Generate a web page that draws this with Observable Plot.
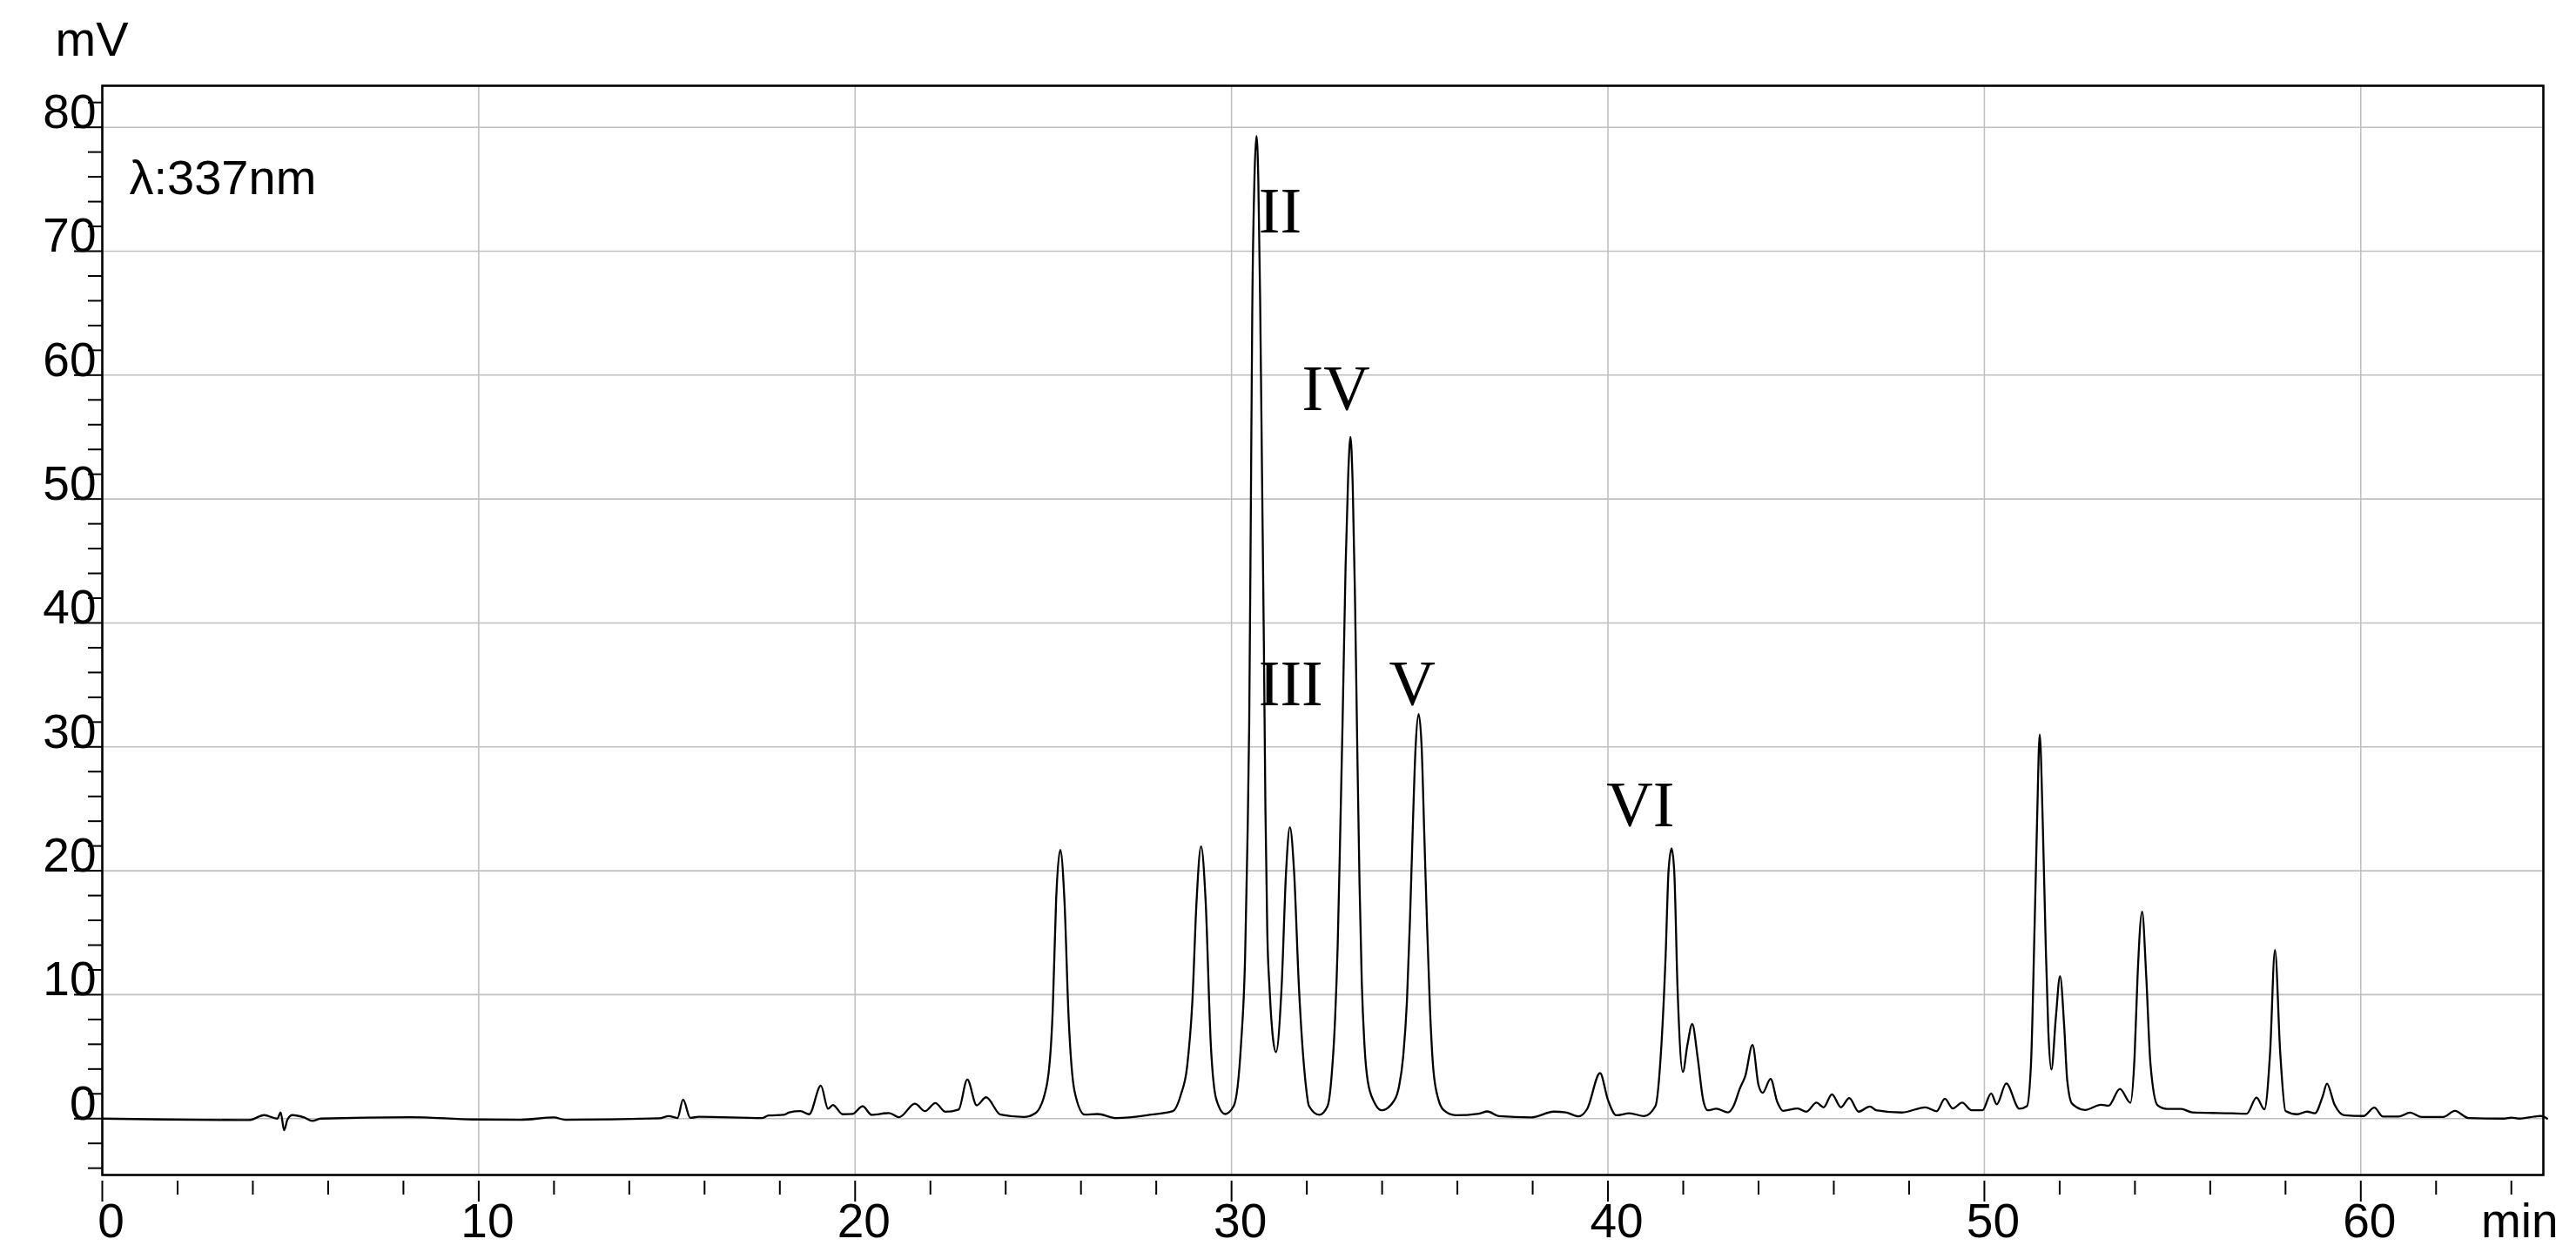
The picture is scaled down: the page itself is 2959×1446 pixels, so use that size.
<!DOCTYPE html>
<html>
<head>
<meta charset="utf-8">
<script src="https://cdn.jsdelivr.net/npm/d3@7"></script>
<script src="https://cdn.jsdelivr.net/npm/@observablehq/plot@0.6"></script>
<style>
  html, body { margin: 0; padding: 0; background: #ffffff; }
  svg { display: block; }
</style>
</head>
<body>
<script>
// Retention time (min) and detector signal (mV)
const time = [
  0, 1.65, 3.9, 4.3, 4.65, 4.74, 4.83, 4.92, 5.05, 5.36, 5.58, 5.8, 8.18, 9.86, 11.1, 12.0, 12.3,
  14.8, 15.05, 15.28, 15.43, 15.62, 15.85, 17.54, 17.7, 18.1, 18.25, 18.55, 18.78, 19.09, 19.28,
  19.41, 19.67, 19.93, 20.2, 20.44, 20.9, 21.17, 21.59, 21.86, 22.13, 22.4, 22.75, 22.98, 23.23,
  23.48, 23.86, 24.48, 24.79, 25.09, 25.25, 25.34, 25.45, 25.56, 25.67, 25.83, 26.1, 26.44, 26.94,
  27.87, 28.44, 28.65, 28.82, 28.96, 29.07, 29.19, 29.31, 29.45, 29.6, 29.83, 30.06, 30.25, 30.36, 30.42,
  30.47, 30.51, 30.55, 30.61, 30.66, 30.71, 30.76, 30.81, 30.86, 30.9, 30.95, 31.01, 31.1, 31.18,
  31.33, 31.45, 31.55, 31.66, 31.79, 31.95, 32.06, 32.33, 32.55, 32.66, 32.75, 32.82, 32.88, 32.95, 33.03,
  33.1, 33.16, 33.22, 33.28, 33.34, 33.4, 33.46, 33.53, 33.62, 33.79, 33.99, 34.33, 34.45, 34.56, 34.66,
  34.74, 34.81, 34.89, 34.97, 35.05, 35.12, 35.19, 35.27, 35.36, 35.5, 35.64, 35.95, 36.57, 36.8, 37.1,
  37.95, 38.57, 38.88, 39.22, 39.45, 39.79, 40.0, 40.22, 40.57, 40.96, 41.26, 41.42, 41.53, 41.61,
  41.69, 41.76, 41.85, 41.99, 42.11, 42.24, 42.38, 42.53, 42.65, 42.88, 43.19, 43.34, 43.5, 43.65,
  43.84, 44.0, 44.11, 44.32, 44.5, 44.65, 45.04, 45.27, 45.54, 45.73, 45.95, 46.19, 46.41, 46.66,
  46.96, 47.12, 47.81, 48.43, 48.73, 48.95, 49.16, 49.41, 49.66, 49.95, 50.18, 50.33, 50.58, 50.93,
  51.13, 51.24, 51.33, 51.4, 51.47, 51.55, 51.63, 51.7, 51.78, 51.9, 52.01, 52.12, 52.2, 52.33, 52.68,
  53.1, 53.3, 53.6, 53.88, 53.99, 54.07, 54.19, 54.3, 54.41, 54.6, 54.85, 55.23, 55.52, 56.56, 56.97,
  57.23, 57.44, 57.59, 57.72, 57.86, 58.0, 58.31, 58.57, 58.78, 58.99, 59.1, 59.3, 59.56, 60.07, 60.36,
  60.59, 61.0, 61.31, 61.62, 62.19, 62.5, 62.86, 63.8, 64.0, 64.21, 64.62, 64.78, 64.95
];
const signal = [
  0, -0.07, -0.12, 0.28, 0.0, 0.5, -0.94, -0.07, 0.28, 0.09, -0.19, 0.0, 0.12, -0.07, -0.1, 0.1, -0.1,
  0.02, 0.2, 0.05, 1.54, 0.06, 0.15, 0.05, 0.25, 0.3, 0.5, 0.6, 0.35, 2.66, 0.8,
  1.1, 0.35, 0.38, 1.0, 0.3, 0.45, 0.12, 1.2, 0.6, 1.26, 0.55, 0.73, 3.15, 1.07,
  1.72, 0.32, 0.13, 0.44, 2.67, 8.76, 17.66, 21.69, 17.66, 8.29, 2.2, 0.32, 0.37, 0.04,
  0.32, 0.6, 1.9, 4.2, 9.5, 17.5, 21.97, 17.66, 5.94, 1.5, 0.37, 1.03, 5.9, 13, 22,
  32, 48, 65, 76, 79.3, 76, 66, 52, 38, 25, 15, 10.5, 6.5, 5.36,
  10.63, 20, 23.51, 20, 10.63, 3.4, 1.0, 0.3, 1.0, 3.5, 8, 14, 22, 32, 44.6,
  52, 55, 51, 42, 30, 19, 11, 6, 3, 1.33, 0.67, 1.5, 2.6, 5.0, 9.5,
  16, 23, 30, 32.65, 30, 23, 16, 9, 4, 1.5, 0.67, 0.27, 0.4, 0.58, 0.2,
  0.1, 0.56, 0.5, 0.18, 0.79, 3.67, 1.5, 0.27, 0.43, 0.2, 1.0, 5.94, 12.97, 20,
  21.8, 20, 10.4, 3.77, 5.94, 7.63, 5, 1.5, 0.67, 0.8, 0.5, 1.03, 2.4, 3.45,
  5.94, 2.7, 2.08, 3.2, 1.33, 0.63, 0.82, 0.56, 1.29, 0.91, 1.96, 0.91, 1.66, 0.56,
  0.98, 0.68, 0.49, 0.91, 0.59, 1.61, 0.82, 1.29, 0.68, 0.68, 2.03, 1.15, 2.83, 0.8,
  1.0, 4.5, 15, 24, 31, 24, 14, 7, 3.96, 8.2, 11.5, 7.5, 3.13, 1.2, 0.7,
  1.12, 1.04, 2.4, 1.28, 5, 11.5, 16.7, 11.5, 4.5, 1.08, 0.78, 0.78, 0.5, 0.43, 0.4,
  1.69, 0.75, 5.3, 13.6, 5.3, 0.62, 0.35, 0.56, 0.43, 1.82, 2.82, 1.15, 0.27, 0.21, 0.89,
  0.16, 0.16, 0.48, 0.13, 0.13, 0.62, 0.05, 0.0, 0.08, 0.0, 0.16, 0.21, 0.0
];

// Peak annotations
const peakLabels = ["II", "III", "IV", "V", "VI"];
const peakLabelTime = [30.72, 30.72, 31.87, 34.18, 39.96];
const peakLabelLevel = [71.5, 33.35, 57.2, 33.35, 23.6];

// Axis ticks
const xMajorTicks = [0, 10, 20, 30, 40, 50, 60];
const xMinorTicks = [2, 4, 6, 8, 12, 14, 16, 18, 22, 24, 26, 28, 32, 34, 36, 38, 42, 44, 46, 48, 52, 54, 56, 58, 62, 64];
const yMajorTicks = [0, 10, 20, 30, 40, 50, 60, 70, 80];
const yMinorTicks = [-4, -2, 2, 4, 6, 8, 12, 14, 16, 18, 22, 24, 26, 28, 32, 34, 36, 38, 42, 44, 46, 48, 52, 54, 56, 58, 62, 64, 66, 68, 72, 74, 76, 78, 82];
const xGrid = [10, 20, 30, 40, 50, 60];
const yGrid = [0, 10, 20, 30, 40, 50, 60, 70, 80];

const xUnit = "min";
const yUnit = "mV";
const wavelengthNote = "λ:337nm";

const trace = time.map((t, i) => ({t, v: signal[i]}));
const peaks = peakLabels.map((label, i) => ({label, t: peakLabelTime[i], v: peakLabelLevel[i]}));

const sans = "'Liberation Sans', Arial, Helvetica, sans-serif";
const serif = "'Liberation Serif', 'Times New Roman', Times, serif";
const fs = 55;

const chart = Plot.plot({
  width: 2959,
  height: 1446,
  marginLeft: 117,
  marginRight: 38,
  marginTop: 98,
  marginBottom: 97,
  style: {background: "#ffffff", fontFamily: sans, overflow: "visible"},
  x: {domain: [0, 64.85], axis: null},
  y: {domain: [-4.55, 83.35], axis: null},
  marks: [
    Plot.gridX(xGrid, {stroke: "#c0c0c0", strokeOpacity: 1, strokeWidth: 1.6}),
    Plot.gridY(yGrid, {stroke: "#c0c0c0", strokeOpacity: 1, strokeWidth: 1.6}),
    Plot.line(trace, {x: "t", y: "v", curve: "monotone-x", stroke: "#000000", strokeWidth: 2.3}),
    Plot.frame({stroke: "#000000", strokeWidth: 2.6}),
    // y ticks
    Plot.axisY(yMinorTicks, {tickSize: 16, tickFormat: () => "", stroke: "#000000", strokeWidth: 2, label: null}),
    Plot.axisY(yMajorTicks, {tickSize: 32, tickFormat: () => "", stroke: "#000000", strokeWidth: 2, label: null}),
    Plot.text(yMajorTicks, {y: d => d, text: d => String(d), frameAnchor: "left", textAnchor: "end", lineAnchor: "bottom", dx: -7, dy: 1, fontSize: fs, fontFamily: sans, fill: "#000000"}),
    // x ticks
    Plot.axisX(xMinorTicks, {tickSize: 16, dy: 7, tickFormat: () => "", stroke: "#000000", strokeWidth: 2, label: null}),
    Plot.axisX(xMajorTicks, {tickSize: 24, dy: 7, tickFormat: () => "", stroke: "#000000", strokeWidth: 2, label: null}),
    Plot.text(xMajorTicks, {x: d => d, text: d => String(d), frameAnchor: "bottom", textAnchor: "middle", lineAnchor: "bottom", dx: 10, dy: 71, fontSize: fs, fontFamily: sans, fill: "#000000"}),
    // unit labels
    Plot.text([xUnit], {text: d => d, frameAnchor: "bottom-right", textAnchor: "end", lineAnchor: "bottom", dx: 17, dy: 71, fontSize: fs, fontFamily: sans, fill: "#000000"}),
    Plot.text([yUnit], {text: d => d, frameAnchor: "top-left", textAnchor: "start", lineAnchor: "bottom", dx: -54, dy: -35, fontSize: 56, fontFamily: sans, fill: "#000000"}),
    Plot.text([wavelengthNote], {text: d => d, frameAnchor: "top-left", textAnchor: "start", lineAnchor: "bottom", dx: 31, dy: 124, fontSize: 56, fontFamily: sans, fill: "#000000"}),
    // peak labels
    Plot.text(peaks, {x: "t", y: "v", text: "label", textAnchor: "start", lineAnchor: "bottom", fontSize: 74, fontFamily: serif, fill: "#000000"})
  ]
});

document.body.appendChild(chart);
</script>
</body>
</html>
